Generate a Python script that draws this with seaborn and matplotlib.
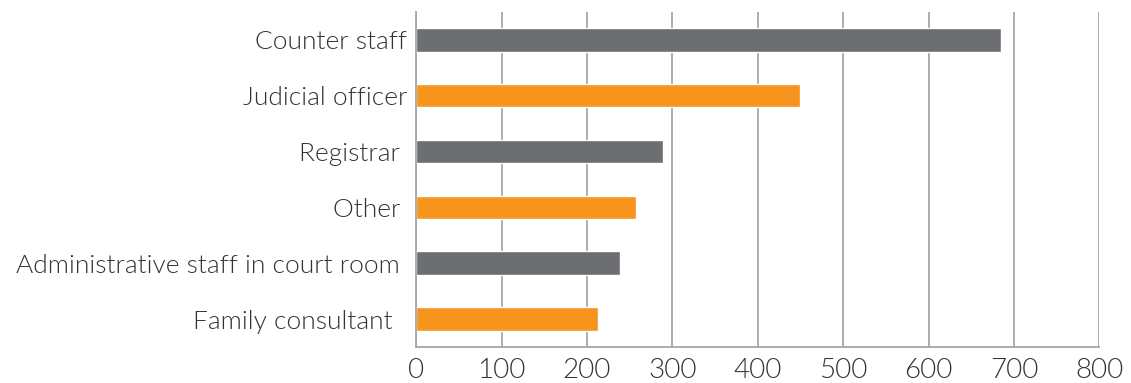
import matplotlib
matplotlib.use("Agg")
import matplotlib.pyplot as plt
import numpy as np
import pandas as pd
import seaborn as sns

# staff type and number of mentions
roles = ["Counter staff", "Judicial officer", "Registrar ", "Other ",
         "Administrative staff in court room ", "Family consultant  "]
counts = [685, 450, 289, 257, 239, 213]
bar_colors = ["#6d6e71", "#f7941d", "#6d6e71", "#f7941d", "#6d6e71", "#f7941d"]
x_ticks = [0, 100, 200, 300, 400, 500, 600, 700, 800]

df = pd.DataFrame({"role": roles, "count": counts})

sns.set_theme(style="white")
plt.rcParams["font.family"] = ["Lato", "DejaVu Sans"]

fig = plt.figure(figsize=(11.31, 3.83), dpi=100)
ax = fig.add_axes([0.368, 0.094, 0.604, 0.875])

sns.barplot(data=df, x="count", y="role", hue="role", palette=bar_colors,
            legend=False, width=0.42, saturation=1, ax=ax)

ax.set_xlim(0, 800)
ax.set_xticks(x_ticks)
ax.xaxis.grid(True, color="#a6a6a6", linewidth=1.3)
ax.set_axisbelow(True)
ax.set_xlabel("")
ax.set_ylabel("")

for side in ["top", "right"]:
    ax.spines[side].set_visible(False)
for side in ["left", "bottom"]:
    ax.spines[side].set_color("#a6a6a6")
    ax.spines[side].set_linewidth(1.3)

ax.tick_params(axis="both", length=0, labelsize=19, colors="#333333")
ax.tick_params(axis="y", pad=6.5)
ax.tick_params(axis="x", pad=8)
for lbl in ax.get_xticklabels() + ax.get_yticklabels():
    lbl.set_fontweight(300)
for lbl in ax.get_xticklabels():
    lbl.set_fontsize(20)
for lbl in ax.get_yticklabels():
    lbl.set_y(lbl.get_position()[1])
    lbl.set_va("center_baseline")

fig.savefig("out.png", dpi=100)
